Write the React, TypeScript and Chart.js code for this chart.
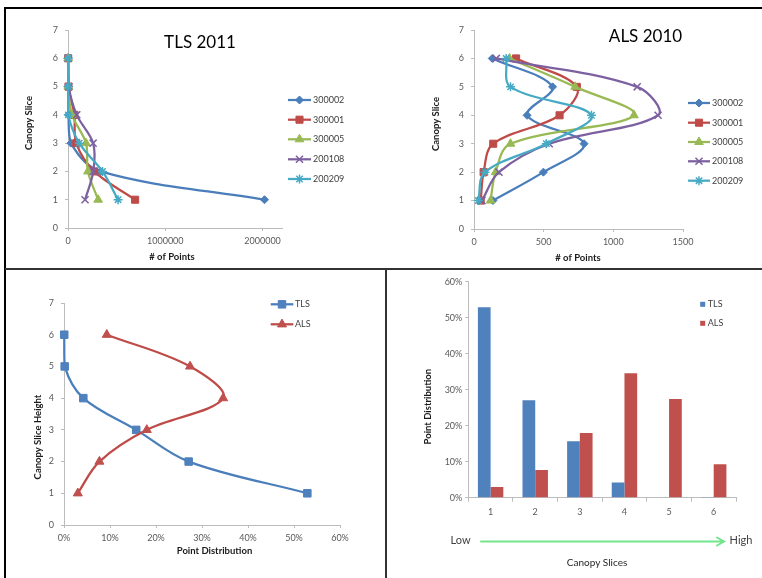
import React, { useEffect, useRef } from 'react';
import { Chart, registerables } from 'chart.js';
import { drawPoint } from 'chart.js/helpers';

Chart.register(...registerables);

// ---------------- data ----------------
const slices = [1, 2, 3, 4, 5, 6];
const sliceLabels = ['1', '2', '3', '4', '5', '6'];
const plotIds = ['300002', '300001', '300005', '200108', '200209'];

// TLS 2011: # of points per canopy slice (slice 1..6)
const tls300002 = [2020000, 335000, 30000, 5000, 2000, 1000];
const tls300001 = [690000, 270000, 85000, 65000, 5000, 2000];
const tls300005 = [310000, 205000, 185000, 42000, 3000, 1500];
const tls200108 = [175000, 260000, 258000, 90000, 8000, 1000];
const tls200209 = [515000, 355000, 116000, 4000, 2000, 1000];

// ALS 2010: # of points per canopy slice (slice 1..6)
const als300002 = [136, 498, 790, 381, 564, 131];
const als300001 = [48, 69, 138, 614, 738, 302];
const als300005 = [119, 155, 262, 1148, 726, 255];
const als200108 = [57, 179, 540, 1321, 1171, 160];
const als200209 = [31, 79, 519, 843, 262, 231];

// Point distribution (%) per canopy slice
const tlsDist = [52.9, 27.1, 15.7, 4.2, 0.15, 0.05];
const alsDist = [3.0, 7.7, 18.0, 34.6, 27.4, 9.3];

const tlsXTicks = [0, 1000000, 2000000];
const alsXTicks = [0, 500, 1000, 1500];
const sliceTicks = [0, 1, 2, 3, 4, 5, 6, 7];
const pctTicks = [0, 10, 20, 30, 40, 50, 60];

// ---------------- styles ----------------
const FONT = 'Lato, "Open Sans", "DejaVu Sans", sans-serif';
const TICK = '#595959';
const AXIS = '#bcbcbc';
const TITLE = '#1a1a1a';
const LEG = '#404040';
const COLORS = ['#4A7EBB', '#BE4B48', '#98B954', '#7D60A0', '#46AAC5'];
const STYLES = ['rectRot', 'rect', 'triangle', 'crossRot', 'star'];
const RADII = [4, 5, 5, 5, 4.5];

const toPts = (vals: number[]) => vals.map((v, i) => ({ x: v, y: slices[i] }));

function lineDs(label: string, vals: number[], i: number, n: number, styleIdx?: number) {
  const s = styleIdx === undefined ? i : styleIdx;
  return {
    label,
    data: toPts(vals),
    borderColor: COLORS[s],
    backgroundColor: COLORS[s],
    pointStyle: STYLES[s],
    pointRadius: RADII[s],
    pointBackgroundColor: COLORS[s],
    pointBorderColor: COLORS[s],
    pointBorderWidth: s >= 3 ? 1.5 : 1,
    borderWidth: 2.25,
    tension: 0.35,
    showLine: true,
    clip: false as any,
    order: n - i,
  };
}

function txt(
  ctx: CanvasRenderingContext2D,
  s: string,
  x: number,
  y: number,
  o: { size: number; weight?: string; color?: string; align?: CanvasTextAlign; rot?: number }
) {
  ctx.save();
  ctx.translate(x, y);
  if (o.rot) ctx.rotate(o.rot);
  ctx.font = `${o.weight || 'normal'} ${o.size}px ${FONT}`;
  ctx.fillStyle = o.color || '#000';
  ctx.textAlign = o.align || 'center';
  ctx.textBaseline = 'middle';
  ctx.fillText(s, 0, 0);
  ctx.restore();
}

function lineLegend(ctx: CanvasRenderingContext2D, chart: any, x1: number, x2: number, tx: number, ys: number[]) {
  chart.data.datasets.forEach((ds: any, i: number) => {
    const y = ys[i];
    ctx.save();
    ctx.strokeStyle = ds.borderColor;
    ctx.lineWidth = ds.borderWidth;
    ctx.beginPath();
    ctx.moveTo(x1, y);
    ctx.lineTo(x2, y);
    ctx.stroke();
    ctx.fillStyle = ds.pointBackgroundColor;
    ctx.strokeStyle = ds.pointBorderColor;
    ctx.lineWidth = ds.pointBorderWidth;
    drawPoint(ctx, { pointStyle: ds.pointStyle, radius: ds.pointRadius, borderWidth: ds.pointBorderWidth, rotation: 0 } as any, (x1 + x2) / 2, y);
    ctx.restore();
    txt(ctx, ds.label, tx, y, { size: 9, color: LEG, align: 'left' });
  });
}

function deco(draw: (ctx: CanvasRenderingContext2D, chart: any) => void) {
  return {
    id: 'deco',
    afterDraw(chart: any) {
      const ctx = chart.ctx as CanvasRenderingContext2D;
      ctx.save();
      draw(ctx, chart);
      ctx.restore();
    },
  };
}

function axisX(min: number, max: number, ticks: number[], fmt: (v: number) => string, tl: number, pad: number, h: number) {
  return {
    type: 'linear' as const,
    min,
    max,
    afterBuildTicks: (s: any) => {
      s.ticks = ticks.map((v) => ({ value: v }));
    },
    afterFit: (s: any) => {
      s.height = h;
    },
    ticks: { callback: (v: any) => fmt(Number(v)), color: TICK, font: { family: FONT, size: 9 }, padding: pad, maxRotation: 0, autoSkip: false },
    grid: { display: true, drawOnChartArea: false, drawTicks: true, tickLength: tl, color: AXIS },
    border: { display: true, color: AXIS, width: 1 },
    title: { display: false },
  };
}

function axisY(min: number, max: number, ticks: number[], fmt: (v: number) => string, tl: number, pad: number, w: number) {
  return {
    type: 'linear' as const,
    min,
    max,
    afterBuildTicks: (s: any) => {
      s.ticks = ticks.map((v) => ({ value: v }));
    },
    afterFit: (s: any) => {
      s.width = w;
    },
    ticks: { callback: (v: any) => fmt(Number(v)), color: TICK, font: { family: FONT, size: 9 }, padding: pad, autoSkip: false },
    grid: { display: true, drawOnChartArea: false, drawTicks: true, tickLength: tl, color: AXIS },
    border: { display: true, color: AXIS, width: 1 },
    title: { display: false },
  };
}

const common = {
  responsive: false,
  animation: false as const,
  events: [] as any[],
  plugins: { legend: { display: false }, tooltip: { enabled: false }, title: { display: false } },
};

// ---------------- chart configs ----------------
function tlsConfig(): any {
  const n = plotIds.length;
  const series = [tls300002, tls300001, tls300005, tls200108, tls200209];
  return {
    type: 'scatter',
    data: { datasets: series.map((v, i) => lineDs(plotIds[i], v, i, n)) },
    options: {
      ...common,
      layout: { padding: { left: 31, right: 103, top: 20, bottom: 9 } },
      scales: {
        x: axisX(0, 2200000, tlsXTicks, (v) => String(v), 3, 5, 30),
        y: axisY(0, 7, sliceTicks, (v) => String(v), 3, 7, 30),
      },
    },
    plugins: [
      deco((ctx, chart) => {
        txt(ctx, 'TLS 2011', 193, 33, { size: 17, color: '#000' });
        txt(ctx, '# of Points', 165, 247, { size: 9.5, weight: 'bold', color: TITLE });
        txt(ctx, 'Canopy Slice', 22, 113, { size: 9.5, weight: 'bold', color: TITLE, rot: -Math.PI / 2 });
        lineLegend(ctx, chart, 281, 304, 306, [90, 109.7, 129.3, 149.3, 169]);
      }),
    ],
  };
}

function alsConfig(): any {
  const n = plotIds.length;
  const series = [als300002, als300001, als300005, als200108, als200209];
  return {
    type: 'scatter',
    data: { datasets: series.map((v, i) => lineDs(plotIds[i], v, i, n)) },
    options: {
      ...common,
      layout: { padding: { left: 58, right: 79, top: 20, bottom: 8 } },
      scales: {
        x: axisX(0, 1500, alsXTicks, (v) => String(v), 3, 5, 30),
        y: axisY(0, 7, sliceTicks, (v) => String(v), 3, 7, 30),
      },
    },
    plugins: [
      deco((ctx, chart) => {
        txt(ctx, 'ALS 2010', 259.5, 26.3, { size: 17, color: '#000' });
        txt(ctx, '# of Points', 192, 248.3, { size: 9.5, weight: 'bold', color: TITLE });
        txt(ctx, 'Canopy Slice', 50, 114, { size: 9.5, weight: 'bold', color: TITLE, rot: -Math.PI / 2 });
        lineLegend(ctx, chart, 302, 324, 326, [93, 112.7, 132, 151.3, 170.7]);
      }),
    ],
  };
}

function distLineConfig(): any {
  return {
    type: 'scatter',
    data: {
      datasets: [lineDs('TLS', tlsDist, 0, 2, 1), lineDs('ALS', alsDist, 1, 2, 2)].map((d, i) => ({
        ...d,
        borderColor: i === 0 ? '#4A7EBB' : '#BE4B48',
        pointBackgroundColor: i === 0 ? '#4F81BD' : '#C0504D',
        pointBorderColor: i === 0 ? '#4F81BD' : '#C0504D',
        pointRadius: i === 0 ? 5.3 : 5.2,
      })),
    },
    options: {
      ...common,
      layout: { padding: { left: 27, right: 45, top: 32, bottom: 23 } },
      scales: {
        x: axisX(0, 60, pctTicks, (v) => v + '%', 3, 5, 30),
        y: axisY(0, 7, sliceTicks, (v) => String(v), 3, 7, 30),
      },
    },
    plugins: [
      deco((ctx, chart) => {
        txt(ctx, 'Point Distribution', 207.5, 279.7, { size: 9.5, weight: 'bold', color: TITLE });
        txt(ctx, 'Canopy Slice Height', 31, 166, { size: 9.5, weight: 'bold', color: TITLE, rot: -Math.PI / 2 });
        lineLegend(ctx, chart, 263.7, 286.3, 288, [33.3, 53.3]);
      }),
    ],
  };
}

function distBarConfig(): any {
  return {
    type: 'bar',
    data: {
      labels: sliceLabels,
      datasets: [
        { label: 'TLS', data: tlsDist, backgroundColor: '#4F81BD', borderWidth: 0, categoryPercentage: 0.57, barPercentage: 1 },
        { label: 'ALS', data: alsDist, backgroundColor: '#C0504D', borderWidth: 0, categoryPercentage: 0.57, barPercentage: 1 },
      ],
    },
    options: {
      ...common,
      layout: { padding: { left: 50.3, right: 26, top: 10.7, bottom: 50.3 } },
      scales: {
        x: {
          type: 'category',
          afterFit: (s: any) => {
            s.height = 30;
          },
          ticks: { color: TICK, font: { family: FONT, size: 9 }, padding: 5, maxRotation: 0 },
          grid: { display: true, offset: true, drawOnChartArea: false, drawTicks: true, tickLength: 4, color: AXIS },
          border: { display: true, color: AXIS, width: 1 },
        },
        y: axisY(0, 60, pctTicks, (v) => v + '%', 3, 3, 30),
      },
    },
    plugins: [
      deco((ctx, chart) => {
        txt(ctx, 'Point Distribution', 39.7, 135.7, { size: 9.5, weight: 'bold', color: TITLE, rot: -Math.PI / 2 });
        chart.data.datasets.forEach((ds: any, i: number) => {
          const y = [33.3, 52.3][i];
          ctx.fillStyle = ds.backgroundColor;
          ctx.fillRect(312.2, y - 2.5, 5, 5);
          txt(ctx, ds.label, 319.7, y, { size: 9, color: LEG, align: 'left' });
        });
        txt(ctx, 'Low', 72.5, 269, { size: 11, color: '#404040' });
        txt(ctx, 'High', 353, 269, { size: 11, color: '#404040' });
        ctx.strokeStyle = '#74e58c';
        ctx.lineWidth = 2;
        ctx.lineCap = 'round';
        ctx.beginPath();
        ctx.moveTo(93, 270.5);
        ctx.lineTo(335, 270.5);
        ctx.moveTo(329, 266.5);
        ctx.lineTo(336, 270.5);
        ctx.lineTo(329, 274.5);
        ctx.stroke();
        txt(ctx, 'Canopy Slices', 209, 291.7, { size: 10, color: '#262626' });
      }),
    ],
  };
}

// ---------------- components ----------------
function Panel(props: { left: number; top: number; width: number; height: number; config: () => any }) {
  const ref = useRef<HTMLCanvasElement>(null);
  useEffect(() => {
    const chart = new Chart(ref.current as HTMLCanvasElement, props.config());
    return () => chart.destroy();
  }, []);
  return (
    <canvas
      ref={ref}
      width={props.width}
      height={props.height}
      style={{ position: 'absolute', left: props.left, top: props.top, width: props.width, height: props.height }}
    />
  );
}

export default function App() {
  return (
    <div style={{ position: 'absolute', left: 0, top: 0, width: 762, height: 578, background: '#fff', overflow: 'hidden' }}>
      <div style={{ position: 'absolute', left: 4, top: 7, width: 758, height: 2, background: '#000' }} />
      <div style={{ position: 'absolute', left: 4, top: 7, width: 2, height: 571, background: '#000' }} />
      <div style={{ position: 'absolute', left: 5, top: 268, width: 757, height: 2, background: '#333' }} />
      <div style={{ position: 'absolute', left: 385, top: 268, width: 2, height: 310, background: '#333' }} />
      <Panel left={7} top={10} width={378} height={257} config={tlsConfig} />
      <Panel left={386} top={10} width={376} height={257} config={alsConfig} />
      <Panel left={7} top={271} width={378} height={307} config={distLineConfig} />
      <Panel left={388} top={271} width={374} height={307} config={distBarConfig} />
    </div>
  );
}
